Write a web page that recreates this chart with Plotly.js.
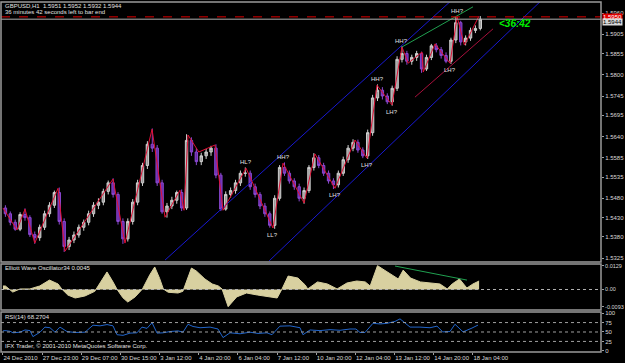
<!DOCTYPE html>
<html><head><meta charset="utf-8">
<script src="https://cdn.plot.ly/plotly-3.0.1.min.js"></script>
<style>html,body{margin:0;padding:0;background:#000;} #chart{width:625px;height:363px;}</style>
</head><body><div id="chart"></div>
<script>
// ---------- data ----------
const tickHours = [0,32,64,96,128,160,192,224,256,288,320,352,384];
const tickLabels = ['24 Dec 2010','27 Dec 23:00','29 Dec 07:00','30 Dec 15:00','3 Jan 12:00','4 Jan 20:00','6 Jan 04:00','7 Jan 12:00','10 Jan 20:00','12 Jan 04:00','13 Jan 12:00','14 Jan 20:00','18 Jan 04:00'];
const priceTicks = [1.5325,1.5380,1.5430,1.5480,1.5535,1.5585,1.5640,1.5695,1.5745,1.5800,1.5855,1.5905,1.5960];
const oscTicks = [0.0129,0,-0.0093];
const oscTickText = ['0.0129','0.00','-0.0093'];
const rsiTicks = [0,25,50,75,100];
const rsiLevels = [25,50,75];

const candleHour = [2,6,10,14,18,22,26,30,34,38,42,46,50,54,58,62,66,70,74,78,82,86,90,94,98,102,106,110,114,118,122,126,130,134,138,142,146,150,154,158,162,166,170,174,178,182,186,190,194,198,202,206,210,214,218,222,226,230,234,238,242,246,250,254,258,262,266,270,274,278,282,286,290,294,298,302,306,310,314,318,322,326,330,334,338,342,346,350,354,358,362,366,370,374,378,382,386,390];
const openP = [1.5455,1.5440,1.5418,1.5400,1.5438,1.5430,1.5386,1.5378,1.5405,1.5440,1.5462,1.5495,1.5420,1.5355,1.5372,1.5385,1.5405,1.5418,1.5440,1.5462,1.5470,1.5498,1.5520,1.5490,1.5420,1.5375,1.5420,1.5470,1.5520,1.5565,1.5620,1.5610,1.5520,1.5445,1.5460,1.5475,1.5495,1.5455,1.5630,1.5600,1.5575,1.5590,1.5600,1.5610,1.5540,1.5452,1.5490,1.5500,1.5520,1.5545,1.5545,1.5510,1.5490,1.5460,1.5440,1.5410,1.5480,1.5560,1.5545,1.5525,1.5510,1.5480,1.5500,1.5560,1.5585,1.5565,1.5545,1.5525,1.5515,1.5545,1.5580,1.5610,1.5625,1.5605,1.5590,1.5650,1.5740,1.5760,1.5745,1.5730,1.5765,1.5840,1.5855,1.5835,1.5845,1.5855,1.5815,1.5845,1.5875,1.5865,1.5850,1.5835,1.5890,1.5935,1.5885,1.5895,1.5915,1.5920];
const highP = [1.5462,1.5446,1.5425,1.5444,1.5454,1.5436,1.5394,1.5412,1.5448,1.5470,1.5500,1.5508,1.5428,1.5380,1.5394,1.5412,1.5425,1.5448,1.5470,1.5480,1.5505,1.5526,1.5532,1.5496,1.5428,1.5428,1.5478,1.5528,1.5572,1.5628,1.5661,1.5618,1.5528,1.5468,1.5484,1.5500,1.5503,1.5646,1.5638,1.5610,1.5598,1.5608,1.5616,1.5620,1.5546,1.5498,1.5508,1.5528,1.5552,1.5560,1.5552,1.5518,1.5496,1.5468,1.5446,1.5488,1.5566,1.5573,1.5552,1.5532,1.5518,1.5508,1.5566,1.5597,1.5592,1.5572,1.5552,1.5532,1.5552,1.5588,1.5618,1.5633,1.5632,1.5612,1.5658,1.5748,1.5775,1.5768,1.5752,1.5772,1.5848,1.5874,1.5862,1.5852,1.5862,1.5860,1.5852,1.5880,1.5882,1.5872,1.5858,1.5896,1.5950,1.5940,1.5902,1.5922,1.5928,1.5952];
const lowP = [1.5432,1.5410,1.5396,1.5395,1.5422,1.5380,1.5362,1.5370,1.5398,1.5432,1.5455,1.5412,1.5341,1.5346,1.5364,1.5378,1.5396,1.5410,1.5432,1.5452,1.5462,1.5490,1.5482,1.5412,1.5362,1.5368,1.5412,1.5462,1.5512,1.5556,1.5600,1.5512,1.5440,1.5430,1.5452,1.5466,1.5447,1.5450,1.5590,1.5566,1.5566,1.5582,1.5590,1.5532,1.5447,1.5448,1.5482,1.5492,1.5512,1.5536,1.5502,1.5482,1.5452,1.5432,1.5404,1.5401,1.5474,1.5538,1.5518,1.5502,1.5472,1.5466,1.5494,1.5552,1.5558,1.5538,1.5518,1.5504,1.5508,1.5538,1.5572,1.5602,1.5598,1.5584,1.5582,1.5642,1.5732,1.5736,1.5724,1.5720,1.5758,1.5832,1.5826,1.5826,1.5836,1.5805,1.5810,1.5838,1.5858,1.5842,1.5830,1.5828,1.5882,1.5876,1.5876,1.5888,1.5908,1.5915];
const closeP = [1.5440,1.5418,1.5400,1.5438,1.5430,1.5386,1.5378,1.5405,1.5440,1.5462,1.5495,1.5420,1.5355,1.5372,1.5385,1.5405,1.5418,1.5440,1.5462,1.5470,1.5498,1.5520,1.5490,1.5420,1.5375,1.5420,1.5470,1.5520,1.5565,1.5620,1.5610,1.5520,1.5445,1.5460,1.5475,1.5495,1.5455,1.5630,1.5600,1.5575,1.5590,1.5600,1.5610,1.5540,1.5452,1.5490,1.5500,1.5520,1.5545,1.5545,1.5510,1.5490,1.5460,1.5440,1.5410,1.5480,1.5560,1.5545,1.5525,1.5510,1.5480,1.5500,1.5560,1.5585,1.5565,1.5545,1.5525,1.5515,1.5545,1.5580,1.5610,1.5625,1.5605,1.5590,1.5650,1.5740,1.5760,1.5745,1.5730,1.5765,1.5840,1.5855,1.5835,1.5845,1.5855,1.5815,1.5845,1.5875,1.5865,1.5850,1.5835,1.5890,1.5935,1.5885,1.5895,1.5915,1.5920,1.5944];

const zigHour  = [0,11.5,18,26,45,50.7,89.9,99.7,121.8,132.4,144.6,147.9,151.2,160,173.2,179.8,198.6,220.6,228.8,246,254.9,271.3,287.6,297.4,305.6,317.8,326,331,342.4,343.4,353,365.2,371.1,377,388.9];
const zigPrice = [1.5455,1.5398,1.5452,1.5364,1.5506,1.5343,1.5530,1.5364,1.5659,1.5431,1.5501,1.5449,1.5644,1.5600,1.5618,1.5449,1.5558,1.5403,1.5571,1.5468,1.5595,1.5506,1.5631,1.5584,1.5773,1.5722,1.5872,1.5830,1.5859,1.5807,1.5880,1.5830,1.5950,1.5877,1.5952];
const zigLabel = ['','','','','','','','','','','','','','','','','HL?','LL?','HH?','','','LH?','','LH?','HH?','LH?','HH?','','','','','LH?','HH?','',''];

const blueUpperHour = [132.4,366.9];
const blueUpperPrice = [1.5320,1.5994];
const blueLowerHour = [217.5,440.4];
const blueLowerPrice = [1.5318,1.5994];
const greenHour = [326.0,384.0];
const greenPrice = [1.5872,1.5976];
const crimsonHour = [336.6,400.4];
const crimsonPrice = [1.5742,1.5919];
const bidPrice = 1.5944;
const alertPrice = 1.5950;

const oscHour = [0,2,8,14,22,30,38,45,48,53,59,67,75,80,85,90,93,98,102,108,114,120,124,128,131,135,139,143,147,150,154,158,165,171,176,179,184,191,199,208,216,224,228,233,241,247,249,257,265,273,281,289,296,300,306,316,323,327,333,341,349,357,363,367,373,379,384,389];
const oscValue = [0.0019,0.0019,-0.0014,0.0003,0.0003,0.0019,0.0051,0.0030,0.0003,-0.0030,-0.0046,-0.0035,-0.0010,0.0040,0.0095,0.0040,0.0003,-0.0045,-0.0068,-0.0040,0.0003,0.0080,0.0122,0.0060,0.0003,-0.0015,-0.0019,-0.0019,-0.0010,0.0040,0.0116,0.0100,0.0057,0.0030,0.0019,0.0003,-0.0093,-0.0040,-0.0019,-0.0030,-0.0040,-0.0046,0.0003,0.0073,0.0062,0.0024,0.0003,0.0041,0.0030,0.0003,0.0035,0.0046,0.0041,0.0019,0.0129,0.0085,0.0057,0.0105,0.0062,0.0041,0.0035,0.0030,0.0003,0.0030,0.0057,0.0008,0.0030,0.0046];
const oscGreenHour = [320.3,379.1];
const oscGreenValue = [0.0127,0.0051];

const rsiHour = [0,1.7,5.8,8.2,13.9,18,22.1,24.5,30.3,34.3,38.4,42.5,46.6,52.3,58.9,67,73.6,79.3,85,89.9,93.2,98.1,103.8,109.5,113.6,117.7,121.8,125.9,130.8,136.5,143,147.1,151.2,155.3,161,169.2,175.7,179.8,185.5,193.7,201.8,208.4,215.7,219.8,226.3,234.5,242.7,245.1,250.9,259,267.2,275.4,283.5,288.4,291.7,295.8,302.3,308.1,313.8,320.3,324.4,328.5,332.6,340.7,348.9,354.6,359.3,365.2,369.3,373.4,375.9,383.2,388.1];
const rsiValue = [52.9,53.7,52,47.8,49.5,55.4,53.7,37.7,49.5,63,61.3,49.5,63,51.2,48.7,49.5,68,66.3,69.7,66.3,42.8,41.1,47,47.8,63,59.6,74.7,47,47.8,51.2,52.9,49.5,70.5,64.6,61.3,63,57.9,35.2,47.8,45.3,49.5,46.1,47.8,42.8,65.5,66.3,61.3,42.8,55.4,53.7,56.2,54.5,57.9,57.9,48.7,48.7,73,71.3,73,78,84.8,74.7,63,63,61.3,65.5,50.3,51.2,70.5,57.9,50.3,60.4,68.3];

// ---------- layout geometry ----------
const xRange = [-1.6, 488.6];
const FAM = 'Liberation Sans, Arial, sans-serif';
const axFont = {family:FAM, size:6, color:'#d8d8d8'};
const txtFont = {family:FAM, size:6, color:'#e0e0e0'};

const traces = [
  {type:'candlestick', x:candleHour, open:openP, high:highP, low:lowP, close:closeP, xaxis:'x', yaxis:'y',
   increasing:{line:{color:'#cfcfcf', width:1}, fillcolor:'#9a9a9a'},
   decreasing:{line:{color:'#8a48d0', width:1}, fillcolor:'#6a2aa8'},
   whiskerwidth:0, hoverinfo:'skip', showlegend:false},
  {type:'scatter', mode:'lines', x:blueUpperHour, y:blueUpperPrice, xaxis:'x', yaxis:'y', line:{color:'#1818d0', width:1}, hoverinfo:'skip', showlegend:false},
  {type:'scatter', mode:'lines', x:blueLowerHour, y:blueLowerPrice, xaxis:'x', yaxis:'y', line:{color:'#1818d0', width:1}, hoverinfo:'skip', showlegend:false},
  {type:'scatter', mode:'lines', x:crimsonHour, y:crimsonPrice, xaxis:'x', yaxis:'y', line:{color:'#a8103c', width:1}, hoverinfo:'skip', showlegend:false},
  {type:'scatter', mode:'lines', x:zigHour, y:zigPrice, xaxis:'x', yaxis:'y', line:{color:'#e01035', width:1}, hoverinfo:'skip', showlegend:false},
  {type:'scatter', mode:'lines', x:greenHour, y:greenPrice, xaxis:'x', yaxis:'y', line:{color:'#20a050', width:1}, hoverinfo:'skip', showlegend:false},
  {type:'scatter', mode:'lines', x:oscHour, y:oscValue, xaxis:'x2', yaxis:'y2', fill:'tozeroy', fillcolor:'#d8d0a0', line:{color:'#d8d0a0', width:1}, hoverinfo:'skip', showlegend:false},
  {type:'scatter', mode:'lines', x:oscGreenHour, y:oscGreenValue, xaxis:'x2', yaxis:'y2', line:{color:'#20a050', width:1}, hoverinfo:'skip', showlegend:false},
  {type:'scatter', mode:'lines', x:rsiHour, y:rsiValue, xaxis:'x3', yaxis:'y3', line:{color:'#2266cc', width:1}, hoverinfo:'skip', showlegend:false}
];

const shapes = [
  {type:'line', xref:'paper', x0:0, x1:1, yref:'y', y0:alertPrice, y1:alertPrice, line:{color:'#e00000', width:1, dash:'dash'}},
  {type:'line', xref:'paper', x0:0, x1:1, yref:'y', y0:bidPrice, y1:bidPrice, line:{color:'#b0b0b0', width:1}},
  {type:'line', xref:'paper', x0:0, x1:1, yref:'y2', y0:0, y1:0, line:{color:'#b0b0b0', width:1, dash:'dot'}}
];
rsiLevels.forEach(v => shapes.push({type:'line', xref:'paper', x0:0, x1:1, yref:'y3', y0:v, y1:v, line:{color:'#a0a0a0', width:1, dash:'dot'}}));
[[0.2571,1],[0.12,0.2514],[0,0.1143]].forEach(d => shapes.push({type:'rect', xref:'paper', yref:'paper', x0:0, x1:1, y0:d[0], y1:d[1], line:{color:'#9a9a9a', width:1.5}, layer:'above'}));

const annotations = [
  {xref:'paper', yref:'paper', x:0, y:0.99, xanchor:'left', yanchor:'middle', xshift:2, showarrow:false, text:'GBPUSD,H1  1.5951 1.5952 1.5932 1.5944', font:txtFont},
  {xref:'paper', yref:'paper', x:0, y:0.9706, xanchor:'left', yanchor:'middle', xshift:2, showarrow:false, text:'36 minutes 42 seconds left to bar end', font:txtFont},
  {xref:'paper', yref:'paper', x:0, y:0.24, xanchor:'left', yanchor:'middle', xshift:2, showarrow:false, text:'Elliott Wave Oscillator34 0.0045', font:txtFont},
  {xref:'paper', yref:'paper', x:0, y:0.10, xanchor:'left', yanchor:'middle', xshift:2, showarrow:false, text:'RSI(14) 68.2704', font:txtFont},
  {xref:'paper', yref:'paper', x:0, y:0.017, xanchor:'left', yanchor:'middle', xshift:2, showarrow:false, text:'IFX Trader, © 2001-2010 MetaQuotes Software Corp.', font:txtFont},
  {xref:'paper', yref:'paper', x:0.827, y:0.94, xanchor:'left', yanchor:'middle', showarrow:false, text:'<b><i>&lt;36:42</i></b>', font:{family:FAM, size:10, color:'#00ee00'}},
  {xref:'paper', yref:'y', x:1, y:alertPrice, xanchor:'left', yanchor:'middle', xshift:1, showarrow:false, text:'1.5950', bgcolor:'#e00000', borderpad:0, font:{family:FAM, size:6, color:'#ffffff'}},
  {xref:'paper', yref:'y', x:1, y:bidPrice, xanchor:'left', yanchor:'top', xshift:1, yshift:1, showarrow:false, text:'1.5944', bgcolor:'#d8d8d8', borderpad:0, font:{family:FAM, size:6, color:'#000000'}}
];
zigLabel.forEach((lab, i) => {
  if (!lab) return;
  const isHigh = i > 0 && zigPrice[i] > zigPrice[i-1];
  annotations.push({xref:'x', yref:'y', x:zigHour[i], y:zigPrice[i], showarrow:false, text:lab,
    yanchor: isHigh ? 'bottom' : 'top', yshift: isHigh ? 1 : -2, font:txtFont});
});

const baseX = {range:xRange, showgrid:false, zeroline:false, showticklabels:false, ticks:'', fixedrange:true};
const yCommon = {side:'right', showgrid:false, zeroline:false, ticks:'outside', ticklen:2, tickcolor:'#a0a0a0', tickfont:axFont, automargin:false};
const layout = {
  width:625, height:363,
  margin:{l:1, r:24, t:2, b:11},
  paper_bgcolor:'#000000', plot_bgcolor:'#000000',
  showlegend:false,
  xaxis: Object.assign({}, baseX, {anchor:'y', rangeslider:{visible:false}}),
  xaxis2: Object.assign({}, baseX, {anchor:'y2', matches:'x'}),
  xaxis3: Object.assign({}, baseX, {anchor:'y3', matches:'x', showticklabels:true, tickvals:tickHours, ticktext:tickLabels,
    ticks:'outside', ticklen:2, tickcolor:'#a0a0a0', ticklabelposition:'outside right', tickangle:0, tickfont:axFont, automargin:false}),
  yaxis: Object.assign({}, yCommon, {domain:[0.2571,1], range:[1.5315,1.59885], anchor:'x', tickvals:priceTicks, tickformat:'.4f'}),
  yaxis2: Object.assign({}, yCommon, {domain:[0.12,0.2514], range:[-0.0111,0.0138], anchor:'x2', tickvals:oscTicks, ticktext:oscTickText,
    tickfont:{family:FAM, size:5.5, color:'#d8d8d8'}}),
  yaxis3: Object.assign({}, yCommon, {domain:[0,0.1143], range:[-3,103], anchor:'x3', tickvals:rsiTicks}),
  shapes: shapes,
  annotations: annotations
};

Plotly.newPlot('chart', traces, layout, {staticPlot:true, displayModeBar:false});
</script>
</body></html>
